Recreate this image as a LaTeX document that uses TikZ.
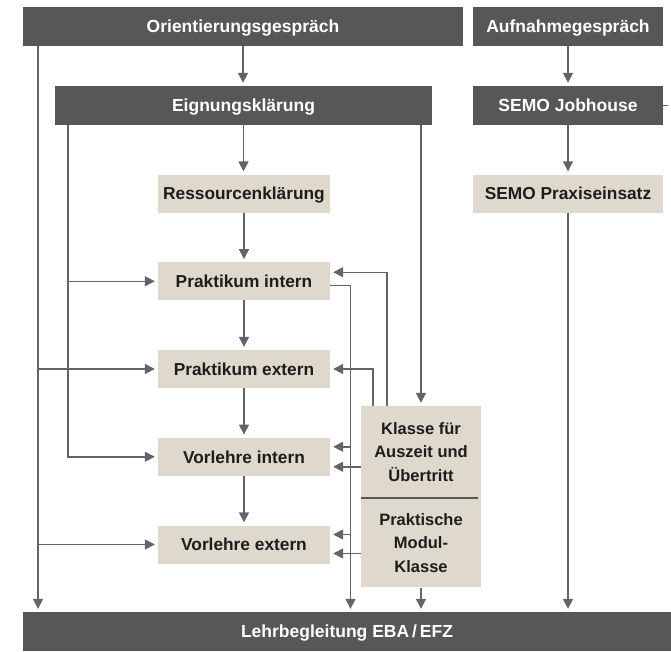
\documentclass[tikz,border=0pt]{standalone}
\usepackage{fontspec}
\setmainfont{Liberation Sans}
\usetikzlibrary{arrows.meta,positioning}

\definecolor{bardark}{RGB}{87,87,86}
\definecolor{boxbeige}{RGB}{222,216,205}
\definecolor{linegray}{RGB}{100,100,100}
\definecolor{textdark}{RGB}{29,29,27}

\begin{document}
\begin{tikzpicture}[x=1pt,y=-1pt,>={Triangle[length=10pt,width=10pt]},shorten >=3pt,node distance=87.75pt,
	oneline/.style={text height=12.6pt,text depth=0pt},
	bar/.style={fill=bardark,text=white,inner sep=0pt,minimum height=39pt,oneline,font=\bfseries\fontsize{17.5}{21}\selectfont},
	panel/.style={fill=boxbeige,text=textdark,inner sep=0pt,minimum width=120pt,align=center,font=\bfseries\fontsize{16.5}{23.5}\selectfont},
	box/.style={fill=boxbeige,text=textdark,inner sep=0pt,minimum width=172pt,minimum height=38pt,oneline,font=\bfseries\fontsize{17.3}{21}\selectfont},
	link/.style={draw=linegray,line width=1.5pt}]

\useasboundingbox (0,0) rectangle (671,651);

% top row
\node[bar,minimum width=440pt]   (orient)   at (243,26.5)      {Orientierungsgespräch};
\node[bar,minimum width=190pt]   (aufnahme) at (568,26.5)      {Aufnahmegespräch};
\node[bar,minimum width=377pt]   (eignung)  at (243.5,105.5)   {Eignungsklärung};
\node[bar,minimum width=190pt]   (jobhouse) at (568,105.5)     {SEMO Jobhouse};
\node[box,minimum width=190pt]   (praxis)   at (568,193.5)     {SEMO Praxiseinsatz};

% middle column
\node[box]   (ressourcen) at (244,193.5)       {Ressourcenklärung};
\node[box]   (pi)[below of=ressourcen]         {Praktikum intern};
\node[box]   (pe)[below of=pi]                 {Praktikum extern};
\node[box]   (vi)[below of=pe]                 {Vorlehre intern};
\node[box]   (ve)[below of=vi]                 {Vorlehre extern};

% klassen
\node[panel,minimum height=92pt]             (klasse) at (421,452)       {Klasse für\\Auszeit und\\Übertritt};
\node[panel,minimum height=89pt,anchor=north] (modul)  at (klasse.south) {Praktische\\Modul-\\Klasse};
\draw[draw=bardark,line width=1.5pt] (klasse.south west) -- (klasse.south east);

% bottom
\node[bar,minimum width=648pt]   (lehr)  at (347,631.5)  {Lehrbegleitung EBA\,/\,EFZ};

% line positions
\coordinate (xa) at (38,0);
\coordinate (xb) at (68,0);
\coordinate (xc) at (350.5,0);
\coordinate (xd) at (373,0);
\coordinate (xe) at (387,0);
\coordinate (edge) at (671,105.5);

% straight arrows
\draw[->,link] (orient.south) -- (orient.south |- eignung.north);
\draw[->,link] (eignung.south) -- (eignung.south |- ressourcen.north);
\draw[->,link] (ressourcen) -- (pi);
\draw[->,link] (pi) -- (pe);
\draw[->,link] (pe) -- (vi);
\draw[->,link] (vi) -- (ve);
\draw[->,link] (aufnahme) -- (jobhouse);
\draw[->,link] (jobhouse) -- (praxis);
\draw[->,link] (praxis) -- (praxis.south |- lehr.north);
\draw[->,link] (modul) -- (modul.south |- lehr.north);
\draw[->,link] (eignung.south -| klasse.north) -- (klasse.north);
\draw[link] (jobhouse.east) -- (edge);

% left feeds
\draw[->,link] (orient.south -| xa) -- (lehr.north -| xa);
\draw[->,link] (pe.west -| xa) -- (pe.west);
\draw[->,link] (ve.west -| xa) -- (ve.west);
\draw[->,link] (eignung.south -| xb) |- (vi.west);
\draw[->,link] (pi.west -| xb) -- (pi.west);

% right feeds
\draw[->,link] ([yshift=-4pt]pi.east) -| (lehr.north -| xc);
\draw[->,link] (klasse.north -| xe) |- ([yshift=9pt]pi.east);
\draw[->,link] (klasse.north -| xd) |- (pe.east);
\draw[->,link] ([yshift=10pt]vi.east -| xc) -- ([yshift=10pt]vi.east);
\draw[->,link] ([yshift=-10pt]vi.east -| klasse.west) -- ([yshift=-10pt]vi.east);
\draw[->,link] ([yshift=10pt]ve.east -| xc) -- ([yshift=10pt]ve.east);
\draw[->,link] ([yshift=-9pt]ve.east -| modul.west) -- ([yshift=-9pt]ve.east);

\end{tikzpicture}
\end{document}
